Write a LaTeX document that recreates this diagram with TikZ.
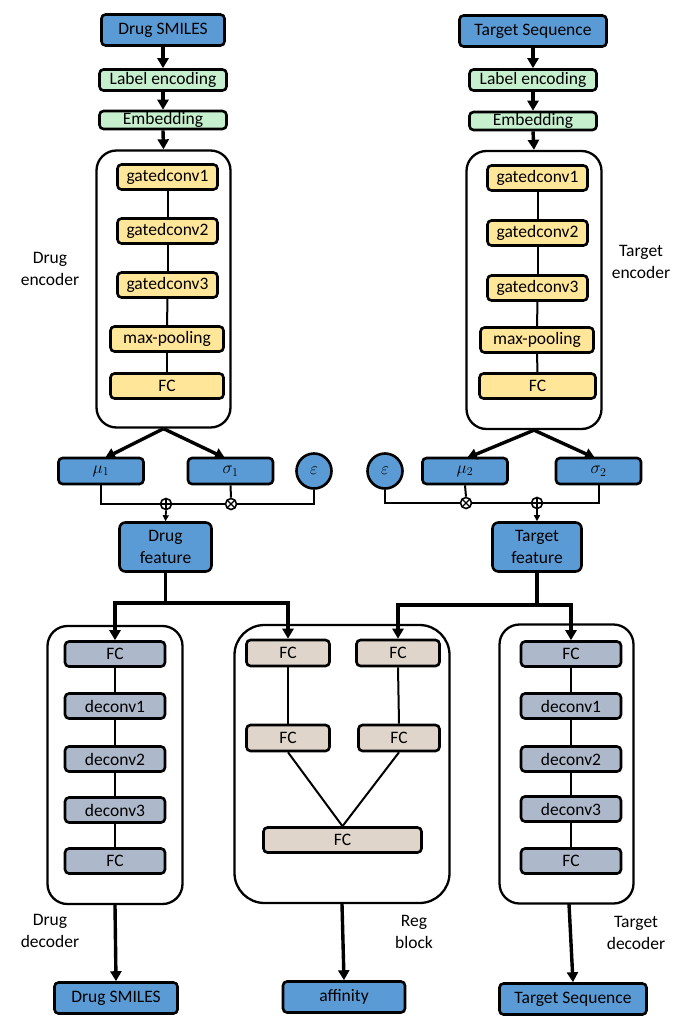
\documentclass[tikz,border=0pt]{standalone}
\usepackage{fontspec}
\setmainfont{Carlito}
\usetikzlibrary{arrows.meta}
\definecolor{ioblue}{HTML}{5B9BD5}
\definecolor{encgreen}{HTML}{C6EFCE}
\definecolor{convyellow}{HTML}{FFE699}
\definecolor{decgrey}{HTML}{ADB9CA}
\definecolor{regbeige}{HTML}{DFD5CB}
\begin{document}
\begin{tikzpicture}[x=1pt,y=-1pt,
  every node/.style={font=\fontsize{17.5}{22}\selectfont, inner sep=0pt, align=center},
  box/.style={draw, line width=2.6pt, rounded corners=4pt},
  iobox/.style={box, fill=ioblue, minimum width=#1, minimum height=31pt},
  greenbox/.style={box, fill=encgreen, minimum width=127pt, minimum height=#1},
  convbox/.style={box, fill=convyellow, minimum width=#1, minimum height=25pt},
  decbox/.style={box, fill=decgrey, minimum width=100pt, minimum height=25pt},
  regbox/.style={box, fill=regbeige, minimum width=#1, minimum height=26pt},
  latbox/.style={box, fill=ioblue, minimum width=85pt, minimum height=26pt},
  featbox/.style={box, fill=ioblue, rounded corners=6pt, minimum width=#1, minimum height=49pt},
  noise/.style={circle, draw, line width=2.6pt, fill=ioblue, minimum size=35pt},
  container/.style={draw, line width=2.3pt, rounded corners=#1},
  link/.style={line width=2pt},
  bigarrow/.style={line width=3.4pt, -{Triangle[length=10pt,width=11pt]}},
  smallarrow/.style={line width=1.8pt, -{Triangle[length=6pt,width=6pt]}},
  plusop/.style={circle, draw, line width=1.6pt, fill=white, minimum size=11pt,
    path picture={\draw[line width=1.3pt] (path picture bounding box.north) -- (path picture bounding box.south)
      (path picture bounding box.west) -- (path picture bounding box.east);}},
  timesop/.style={circle, draw, line width=1.6pt, fill=white, minimum size=11pt,
    path picture={\draw[line width=1.3pt] (path picture bounding box.north west) -- (path picture bounding box.south east)
      (path picture bounding box.north east) -- (path picture bounding box.south west);}},
]
\useasboundingbox (0,0) rectangle (686,1019);

% ---------- drug branch: input and encoder ----------
\node[iobox=123pt] (dsmi) at (163,30) {Drug SMILES};
\node[greenbox=21pt] (dlab) at (163,80) {Label encoding};
\node[greenbox=18pt, text height=12pt, text depth=2pt] (demb) at (163,120) {Embedding};
\node[container=20pt, minimum width=134pt, minimum height=277pt] (denc) at (163.5,289) {};
\node[convbox=100pt] (dg1) at (167.5,177) {gatedconv1};
\node[convbox=100pt] (dg2) at (167.5,231) {gatedconv2};
\node[convbox=100pt] (dg3) at (167.5,285) {gatedconv3};
\node[convbox=113pt] (dmp) at (167,339) {max-pooling};
\node[convbox=113pt] (dfc) at (167,386) {FC};
\node (dencl) at (50,269) {Drug\\encoder};

\draw[bigarrow] (dsmi.south) -- (dlab.north);
\draw[bigarrow] (dlab.south) -- (demb.north);
\draw[bigarrow] (demb.south) -- (denc.north);
\draw[link] (dg1.south) -- (dg2.north);
\draw[link] (dg2.south) -- (dg3.north);
\draw[link] (dg3.south) -- (dmp.north);
\draw[link] (dmp.south) -- (dfc.north);

% drug latent
\node[latbox] (mu1) at (101,471) {$\mu_1$};
\node[latbox] (sig1) at (230.5,471) {$\sigma_1$};
\node[noise] (eps1) at (314,471) {$\varepsilon$};
\coordinate (dsplit) at (denc.south);
\draw[bigarrow] (dsplit) -- (105,458);
\draw[bigarrow] (dsplit) -- (225,458);
\node[plusop] (dadd) at (166,504) {};
\node[timesop] (dmul) at (231,504) {};
\draw[link] (mu1.south) |- (dadd.west);
\draw[link] (dadd.east) -- (dmul.west);
\draw[link] (dmul.east) -| (eps1.south);
\draw[link] (sig1.south) -- (dmul.north);
\node[featbox=92pt] (dfeat) at (165.5,547) {Drug\\feature};
\draw[smallarrow] (dadd.south) -- (dfeat.north);

% ---------- target branch: input and encoder ----------
\node[iobox=147pt] (tseq) at (533,31) {Target Sequence};
\node[greenbox=21pt] (tlab) at (533,80) {Label encoding};
\node[greenbox=18pt, text height=12pt, text depth=2pt] (temb) at (533,121) {Embedding};
\node[container=20pt, minimum width=135pt, minimum height=278pt] (tenc) at (534,290) {};
\node[convbox=100pt] (tg1) at (537.5,178) {gatedconv1};
\node[convbox=100pt] (tg2) at (537.5,233) {gatedconv2};
\node[convbox=100pt] (tg3) at (537.5,288) {gatedconv3};
\node[convbox=113pt] (tmp) at (537,340) {max-pooling};
\node[convbox=116pt] (tfc) at (537.5,386) {FC};
\node (tencl) at (641,262) {Target\\encoder};

\draw[bigarrow] (tseq.south) -- (tlab.north);
\draw[bigarrow] (tlab.south) -- (temb.north);
\draw[bigarrow] (temb.south) -- (tenc.north);
\draw[link] (tg1.south) -- (tg2.north);
\draw[link] (tg2.south) -- (tg3.north);
\draw[link] (tg3.south) -- (tmp.north);
\draw[link] (tmp.south) -- (tfc.north);

% target latent
\node[noise] (eps2) at (385,471) {$\varepsilon$};
\node[latbox] (mu2) at (465,471) {$\mu_2$};
\node[latbox] (sig2) at (598.5,471) {$\sigma_2$};
\coordinate (tsplit) at (tenc.south);
\draw[bigarrow] (tsplit) -- (467,458);
\draw[bigarrow] (tsplit) -- (595,458);
\node[timesop] (tmul) at (466,503) {};
\node[plusop] (tadd) at (537,503) {};
\draw[link] (eps2.south) |- (tmul.west);
\draw[link] (tmul.east) -- (tadd.west);
\draw[link] (tadd.east) -| (sig2.south);
\draw[link] (mu2.south) -- (tmul.north);
\node[featbox=89pt] (tfeat) at (537,547) {Target\\feature};
\draw[smallarrow] (tadd.south) -- (tfeat.north);

% ---------- drug decoder ----------
\node[container=20pt, minimum width=135pt, minimum height=278pt] (ddec) at (115,765) {};
\node[decbox] (dd1) at (115,654) {FC};
\node[decbox] (dd2) at (115,706) {deconv1};
\node[decbox] (dd3) at (115,759) {deconv2};
\node[decbox] (dd4) at (115,810) {deconv3};
\node[decbox] (dd5) at (115,861) {FC};
\draw[link] (dd1.south) -- (dd2.north);
\draw[link] (dd2.south) -- (dd3.north);
\draw[link] (dd3.south) -- (dd4.north);
\draw[link] (dd4.south) -- (dd5.north);
\node (ddecl) at (50,931) {Drug\\decoder};
\node[iobox=123pt] (dsmiout) at (116,998) {Drug SMILES};
\draw[bigarrow] (ddec.south) -- (dsmiout.north);

% ---------- regression block ----------
\node[container=30pt, minimum width=215pt, minimum height=278pt] (reg) at (342,764) {};
\node[regbox=83pt] (rf1) at (288,653) {FC};
\node[regbox=83pt] (rf2) at (398,653) {FC};
\node[regbox=83pt] (rf3) at (288,738) {FC};
\node[regbox=81pt] (rf4) at (399,738) {FC};
\node[regbox=158pt, minimum height=25pt] (rf5) at (342.5,840) {FC};
\draw[link] (rf1.south) -- (rf3.north);
\draw[link] (rf2.south) -- (rf4.north);
\draw[link] (rf3.south) -- (rf5.north);
\draw[link] (rf4.south) -- (rf5.north);
\node (regl) at (414,932) {Reg\\block};
\node[iobox=122pt] (aff) at (344,997) {affinity};
\draw[bigarrow] (reg.south) -- (aff.north);

% ---------- target decoder ----------
\node[container=20pt, minimum width=134pt, minimum height=279pt] (tdec) at (566.5,764) {};
\node[decbox] (td1) at (571,654) {FC};
\node[decbox] (td2) at (571,706) {deconv1};
\node[decbox] (td3) at (571,759) {deconv2};
\node[decbox] (td4) at (571,809) {deconv3};
\node[decbox] (td5) at (571,861) {FC};
\draw[link] (td1.south) -- (td2.north);
\draw[link] (td2.south) -- (td3.north);
\draw[link] (td3.south) -- (td4.north);
\draw[link] (td4.south) -- (td5.north);
\node (tdecl) at (636,933) {Target\\decoder};
\node[iobox=147pt] (tseqout) at (573,999) {Target Sequence};
\coordinate (tdecout) at (569,904);
\draw[bigarrow] (tdecout) -- (tseqout.north);

% ---------- feature routing ----------
\coordinate (djoin) at (165.5,603);
\coordinate (tjoin) at (537,605);
\draw[line width=3.4pt] (dfeat.south) -- (djoin);
\draw[bigarrow] (djoin) -| (dd1.north);
\draw[bigarrow] (djoin) -| (rf1.north);
\draw[line width=3.4pt] (tfeat.south) -- (tjoin);
\draw[bigarrow] (tjoin) -| (rf2.north);
\draw[bigarrow] (tjoin) -| (td1.north);
\end{tikzpicture}
\end{document}
